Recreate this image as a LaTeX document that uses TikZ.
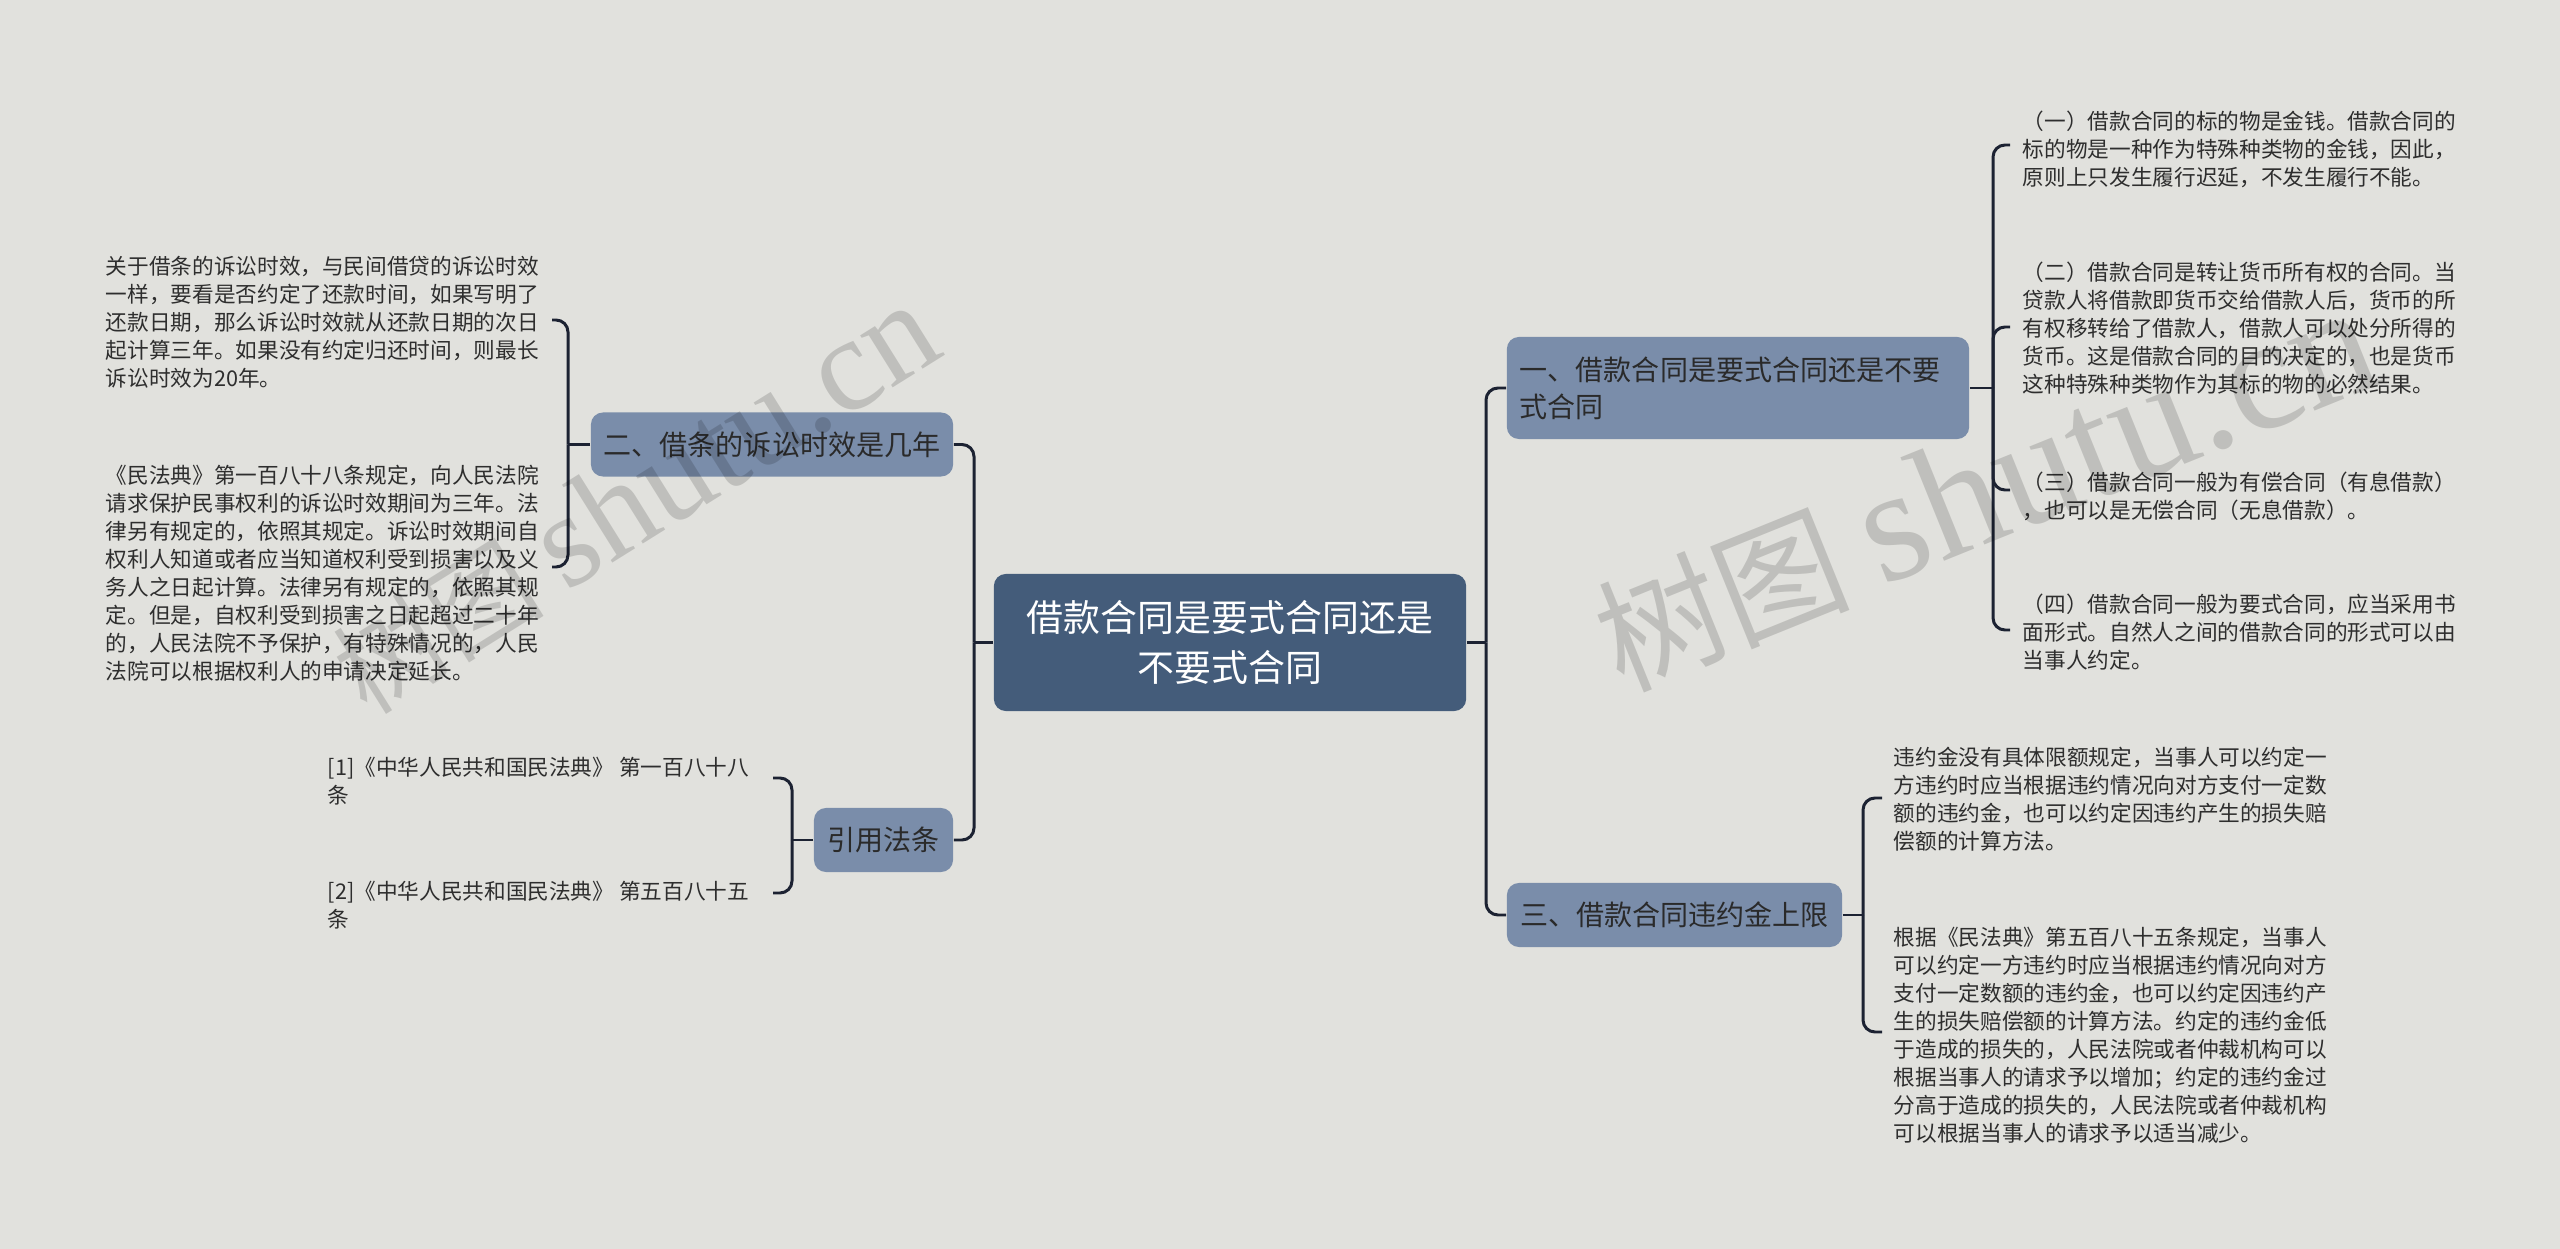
\documentclass[tikz,border=0pt]{standalone}
\usepackage{fontspec}
\setmainfont{Noto Sans CJK SC}
\newfontfamily\wmlatin{Liberation Serif}
\usetikzlibrary{calc}
\definecolor{bgc}{HTML}{E1E1DD}
\definecolor{rootc}{HTML}{445C7A}
\definecolor{brc}{HTML}{7A8DAA}
\definecolor{brtext}{HTML}{2A2A2A}
\definecolor{leaftext}{HTML}{2E2E2E}
\definecolor{linec}{HTML}{1C2232}
\begin{document}
\begin{tikzpicture}[x=0.01cm,y=-0.01cm,
  rootbox/.style={fill=rootc, rounded corners=0.12cm, text=white, align=center,
    font=\fontsize{10.5pt}{14.2pt}\selectfont, minimum width=4.72cm, minimum height=1.37cm, inner sep=0pt},
  branch/.style={fill=brc, rounded corners=0.12cm, text=brtext,
    font=\fontsize{7.97pt}{10.5pt}\selectfont, minimum height=0.64cm, inner sep=0pt},
  leaf/.style={anchor=west, align=left, inner sep=0pt, text=leaftext,
    font=\fontsize{6.16pt}{7.97pt}\selectfont},
  conn/.style={draw=linec, line width=0.85pt, rounded corners=0.12cm},
  wm/.style={text=black, text opacity=0.15, inner sep=0pt}
]
\useasboundingbox (0,0) rectangle (2560,1249);
\fill[bgc] (0,0) rectangle (2560,1249);

% central and branch nodes
\node[rootbox] (root) at (1230,642.5) {借款合同是要式合同还是\\不要式合同};
\node[branch, minimum width=3.62cm] (n2) at (772,444.5) {二、借条的诉讼时效是几年};
\node[branch, minimum width=1.39cm] (cite) at (883.5,840) {引用法条};
\node[branch, minimum height=1.02cm, text width=4.36cm, inner xsep=0.13cm, align=left,
  font=\fontsize{7.97pt}{10.5pt}\selectfont] (n1) at (1738,388) {一、借款合同是要式合同还是不要\\式合同};
\node[branch, minimum width=3.35cm] (n3) at (1674.5,915) {三、借款合同违约金上限};

% leaves left
\node[leaf] (l1) at (105,322) {关于借条的诉讼时效，与民间借贷的诉讼时效\\一样，要看是否约定了还款时间，如果写明了\\还款日期，那么诉讼时效就从还款日期的次日\\起计算三年。如果没有约定归还时间，则最长\\诉讼时效为20年。};
\node[leaf] (l2) at (105,573) {《民法典》第一百八十八条规定，向人民法院\\请求保护民事权利的诉讼时效期间为三年。法\\律另有规定的，依照其规定。诉讼时效期间自\\权利人知道或者应当知道权利受到损害以及义\\务人之日起计算。法律另有规定的，依照其规\\定。但是，自权利受到损害之日起超过二十年\\的，人民法院不予保护，有特殊情况的，人民\\法院可以根据权利人的申请决定延长。};
\node[leaf] (c1) at (327,781) {[1]《中华人民共和国民法典》 第一百八十八\\条};
\node[leaf] (c2) at (327,905) {[2]《中华人民共和国民法典》 第五百八十五\\条};

% leaves right
\node[leaf] (r1) at (2022,149) {（一）借款合同的标的物是金钱。借款合同的\\标的物是一种作为特殊种类物的金钱，因此，\\原则上只发生履行迟延，不发生履行不能。};
\node[leaf] (r2) at (2022,328) {（二）借款合同是转让货币所有权的合同。当\\贷款人将借款即货币交给借款人后，货币的所\\有权移转给了借款人，借款人可以处分所得的\\货币。这是借款合同的目的决定的，也是货币\\这种特殊种类物作为其标的物的必然结果。};
\node[leaf] (r3) at (2022,496) {（三）借款合同一般为有偿合同（有息借款）\\，也可以是无偿合同（无息借款）。};
\node[leaf] (r4) at (2022,632) {（四）借款合同一般为要式合同，应当采用书\\面形式。自然人之间的借款合同的形式可以由\\当事人约定。};
\node[leaf] (r5) at (1893,799) {违约金没有具体限额规定，当事人可以约定一\\方违约时应当根据违约情况向对方支付一定数\\额的违约金，也可以约定因违约产生的损失赔\\偿额的计算方法。};
\node[leaf] (r6) at (1893,1035) {根据《民法典》第五百八十五条规定，当事人\\可以约定一方违约时应当根据违约情况向对方\\支付一定数额的违约金，也可以约定因违约产\\生的损失赔偿额的计算方法。约定的违约金低\\于造成的损失的，人民法院或者仲裁机构可以\\根据当事人的请求予以增加；约定的违约金过\\分高于造成的损失的，人民法院或者仲裁机构\\可以根据当事人的请求予以适当减少。};

% junctions and tick ends
\coordinate (cl) at (974,642.5);
\coordinate (cr) at (1486,642.5);
\coordinate (lj) at (568,444.5);
\coordinate (l1t) at (552,320);
\coordinate (l2t) at (552,567);
\coordinate (cj) at (792,840);
\coordinate (c1t) at (773,778);
\coordinate (c2t) at (773,893);
\coordinate (rj1) at (1993,388);
\coordinate (r1t) at (2010,145);
\coordinate (r2t) at (2010,327);
\coordinate (r3t) at (2010,490);
\coordinate (r4t) at (2010,630);
\coordinate (rj2) at (1863,915);
\coordinate (r5t) at (1882,798);
\coordinate (r6t) at (1882,1032);

% connectors
\draw[conn] (root.west) -- (cl);
\draw[conn] (cl) |- (n2.east);
\draw[conn] (cl) |- (cite.east);
\draw[conn] (root.east) -- (cr);
\draw[conn] (cr) |- (n1.west);
\draw[conn] (cr) |- (n3.west);

\draw[conn] (n2.west) -- (lj);
\draw[conn] (lj) |- (l1t);
\draw[conn] (lj) |- (l2t);

\draw[conn] (cite.west) -- (cj);
\draw[conn] (cj) |- (c1t);
\draw[conn] (cj) |- (c2t);

\draw[conn] (n1.east) -- (rj1);
\draw[conn] (rj1) |- (r1t);
\draw[conn] (rj1) |- (r2t);
\draw[conn] (rj1) |- (r3t);
\draw[conn] (rj1) |- (r4t);

\draw[conn] (n3.east) -- (rj2);
\draw[conn] (rj2) |- (r5t);
\draw[conn] (rj2) |- (r6t);

% watermarks
\node[wm, rotate=32, anchor=south west, font=\fontsize{30pt}{30pt}\selectfont] (wm1) at (372,725) {树图 {\wmlatin\fontsize{38pt}{38pt}\selectfont shutu.cn}};
\node[wm, rotate=22, anchor=south west, font=\fontsize{36pt}{36pt}\selectfont] (wm2) at (1625,702) {树图 {\wmlatin\fontsize{46pt}{46pt}\selectfont shutu.cn}};
\end{tikzpicture}
\end{document}
